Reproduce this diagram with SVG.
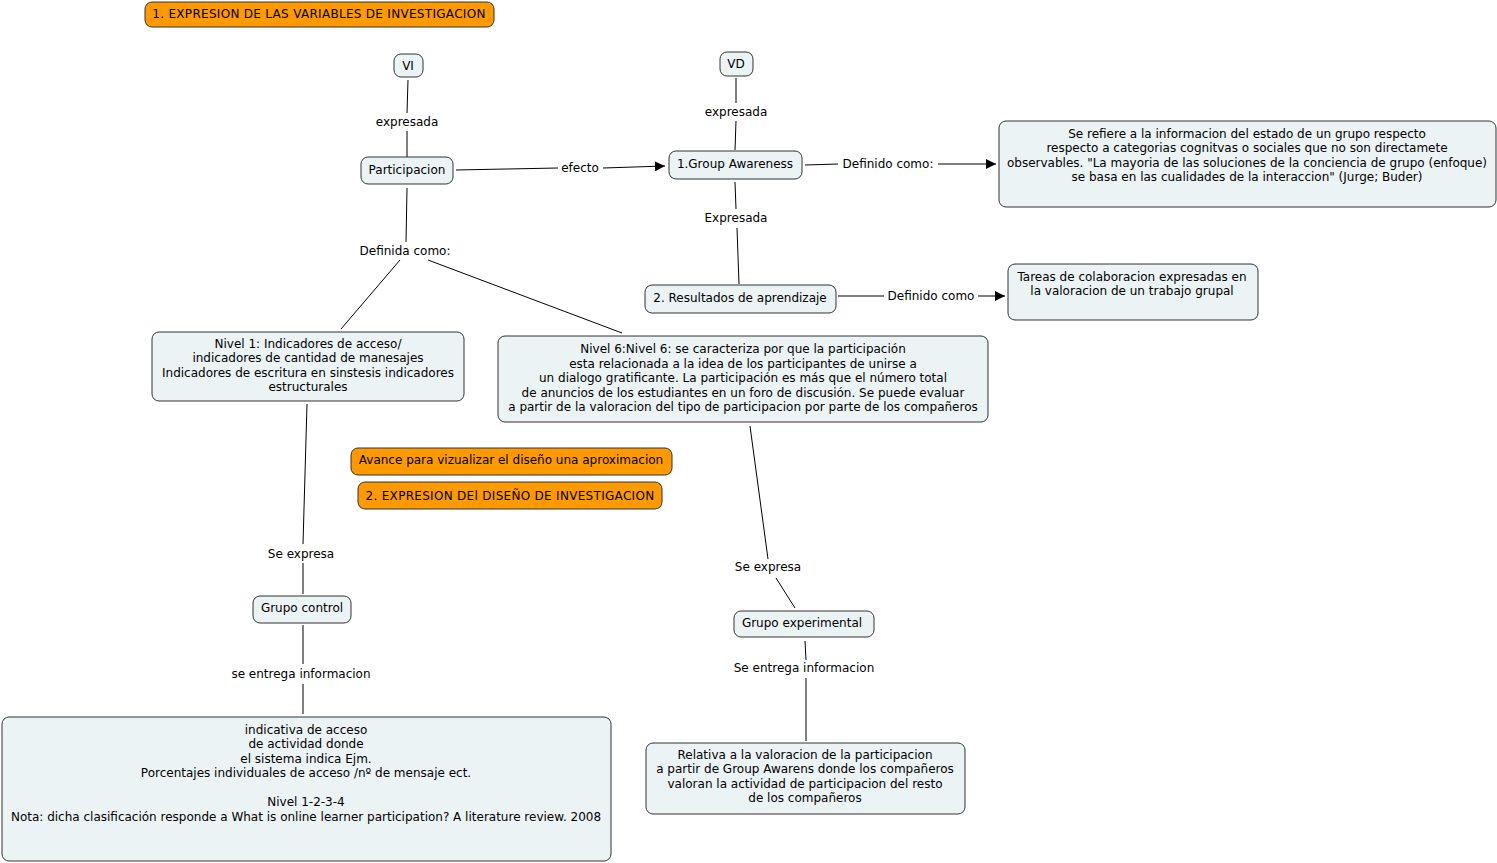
<svg xmlns="http://www.w3.org/2000/svg" width="1497" height="863" viewBox="0 0 1497 863">
<style>
text{font-family:"DejaVu Sans","Liberation Sans",sans-serif;font-size:12px;fill:#000;text-anchor:middle}
.n{fill:#ecf3f5;stroke:#333;stroke-width:1}
.o{fill:#ff9900;stroke:#333;stroke-width:1}
.t{letter-spacing:0.3px}
.c line{stroke:#000;stroke-width:1}
</style>
<defs>
<marker id="ah" viewBox="0 0 10 10" refX="10" refY="5" markerWidth="10" markerHeight="10" markerUnits="userSpaceOnUse" orient="auto">
<path d="M0,0L10,5L0,10z" fill="#000"/>
</marker>
</defs>
<rect width="1497" height="863" fill="#fff"/>
<g class="c" id="connectors">
<line x1="408" y1="80" x2="407" y2="113"/>
<line x1="407" y1="131" x2="407" y2="157"/>
<line x1="736" y1="78" x2="736" y2="103"/>
<line x1="736" y1="121" x2="735" y2="150"/>
<line x1="456" y1="170" x2="558" y2="168"/>
<line x1="603" y1="168" x2="665" y2="166" marker-end="url(#ah)"/>
<line x1="805" y1="165" x2="838" y2="164"/>
<line x1="938" y1="164" x2="996" y2="164" marker-end="url(#ah)"/>
<line x1="735" y1="182" x2="736" y2="209"/>
<line x1="737" y1="228" x2="739" y2="284"/>
<line x1="838" y1="296" x2="884" y2="296"/>
<line x1="978" y1="296" x2="1005" y2="296" marker-end="url(#ah)"/>
<line x1="407" y1="188" x2="406" y2="242"/>
<line x1="400" y1="260" x2="341" y2="329"/>
<line x1="428" y1="260" x2="622" y2="333"/>
<line x1="307" y1="404" x2="303" y2="544"/>
<line x1="303" y1="563" x2="303" y2="594"/>
<line x1="750" y1="426" x2="768" y2="559"/>
<line x1="776" y1="578" x2="795" y2="608"/>
<line x1="303" y1="625" x2="303" y2="664"/>
<line x1="303" y1="684" x2="303" y2="714"/>
<line x1="805" y1="641" x2="806" y2="660"/>
<line x1="806" y1="678" x2="806" y2="741"/>
<text x="407" y="126">expresada</text>
<text x="736" y="116">expresada</text>
<text x="580" y="172">efecto</text>
<text x="888" y="168">Definido como:</text>
<text x="736" y="222">Expresada</text>
<text x="931" y="300">Definido como</text>
<text x="405" y="255">Definida como:</text>
<text x="301" y="558">Se expresa</text>
<text x="768" y="571">Se expresa</text>
<text x="301" y="678">se entrega informacion</text>
<text x="804" y="672">Se entrega informacion</text>
</g>
<g id="title1"><rect class="o" x="145" y="2" width="349" height="25" rx="7"/><text class="t" x="319" y="18">1. EXPRESION DE LAS VARIABLES DE INVESTIGACION</text></g>
<g id="vi"><rect class="n" x="394" y="54" width="29" height="23" rx="7"/><text x="408" y="70">VI</text></g>
<g id="vd"><rect class="n" x="720" y="52" width="33" height="24" rx="7"/><text x="736" y="68">VD</text></g>
<g id="participacion"><rect class="n" x="361" y="157" width="92" height="27" rx="7"/><text x="407" y="174">Participacion</text></g>
<g id="groupawareness"><rect class="n" x="669" y="151" width="133" height="28" rx="7"/><text x="735" y="168">1.Group Awareness</text></g>
<g id="gadef"><rect class="n" x="999" y="121" width="497" height="86" rx="7"/>
<text x="1247" y="138">Se refiere a la informacion del estado de un grupo respecto</text>
<text x="1247" y="152">respecto a categorias cognitvas o sociales que no son directamete</text>
<text x="1247" y="167">observables. "La mayoria de las soluciones de la conciencia de grupo (enfoque)</text>
<text x="1247" y="181">se basa en las cualidades de la interaccion" (Jurge; Buder)</text></g>
<g id="resultados"><rect class="n" x="645" y="285" width="191" height="28" rx="7"/><text x="740" y="302">2. Resultados de aprendizaje</text></g>
<g id="tareas"><rect class="n" x="1008" y="264" width="250" height="56" rx="7"/>
<text x="1132" y="281">Tareas de colaboracion expresadas en</text>
<text x="1132" y="295">la valoracion de un trabajo grupal</text></g>
<g id="nivel1"><rect class="n" x="152" y="332" width="312" height="69" rx="7"/>
<text x="308" y="348">Nivel 1: Indicadores de acceso/</text>
<text x="308" y="362">indicadores de cantidad de manesajes</text>
<text x="308" y="377">Indicadores de escritura en sinstesis indicadores</text>
<text x="308" y="391">estructurales</text></g>
<g id="nivel6"><rect class="n" x="498" y="336" width="490" height="86" rx="7"/>
<text x="743" y="353">Nivel 6:Nivel 6: se caracteriza por que la participación</text>
<text x="743" y="368">esta relacionada a la idea de los participantes de unirse a</text>
<text x="743" y="382">un dialogo gratificante. La participación es más que el número total</text>
<text x="743" y="397">de anuncios de los estudiantes en un foro de discusión. Se puede evaluar</text>
<text x="743" y="411">a partir de la valoracion del tipo de participacion por parte de los compañeros</text></g>
<g id="avance"><rect class="o" x="351" y="448" width="321" height="27" rx="7"/><text x="511" y="464">Avance para vizualizar el diseño una aproximacion</text></g>
<g id="title2"><rect class="o" x="358" y="482" width="304" height="27" rx="7"/><text class="t" x="510" y="500">2. EXPRESION DEl DISEÑO DE INVESTIGACION</text></g>
<g id="grupocontrol"><rect class="n" x="253" y="596" width="98" height="27" rx="7"/><text x="302" y="612">Grupo control</text></g>
<g id="grupoexp"><rect class="n" x="734" y="611" width="140" height="26" rx="7"/><text x="802" y="627">Grupo experimental</text></g>
<g id="indicativa"><rect class="n" x="2" y="717" width="609" height="144" rx="7"/>
<text x="306" y="734">indicativa de acceso</text>
<text x="306" y="748">de actividad donde</text>
<text x="306" y="763">el sistema indica Ejm.</text>
<text x="306" y="777">Porcentajes individuales de acceso /nº de mensaje ect.</text>
<text x="306" y="806">Nivel 1-2-3-4</text>
<text x="306" y="821">Nota: dicha clasificación responde a What is online learner participation? A literature review. 2008</text></g>
<g id="relativa"><rect class="n" x="646" y="743" width="319" height="71" rx="7"/>
<text x="805" y="759">Relativa a la valoracion de la participacion</text>
<text x="805" y="773">a partir de Group Awarens donde los compañeros</text>
<text x="805" y="788">valoran la actividad de participacion del resto</text>
<text x="805" y="802">de los compañeros</text></g>
</svg>
